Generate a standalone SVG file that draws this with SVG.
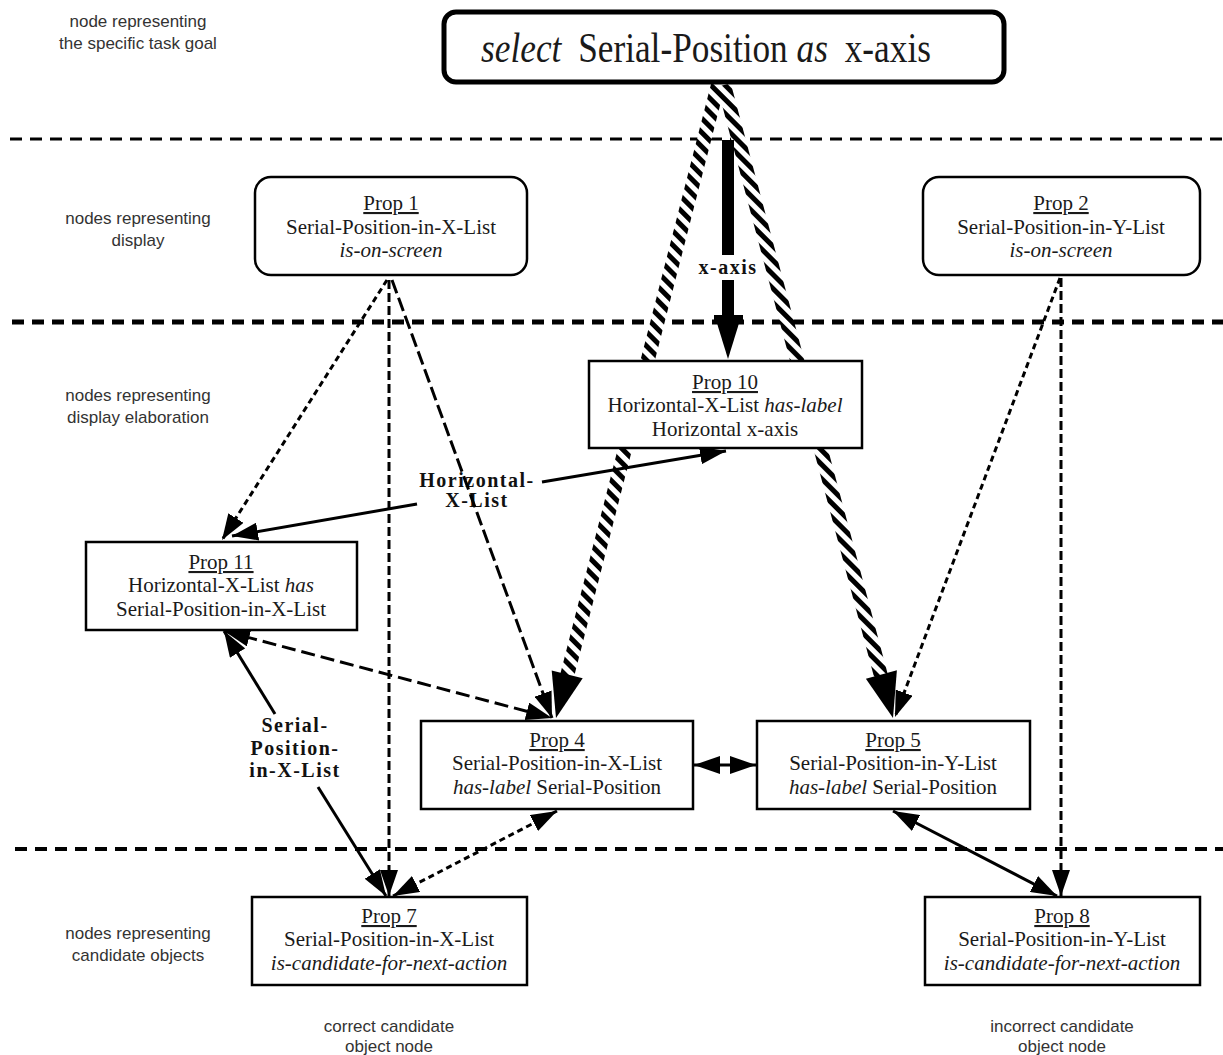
<svg xmlns="http://www.w3.org/2000/svg" width="1223" height="1055" viewBox="0 0 1223 1055">
<style>
.lbl{font-family:"Liberation Sans",Arial,sans-serif;font-size:17px;fill:#333;text-anchor:middle}
.nt{font-family:"Liberation Serif","Times New Roman",serif;font-size:21px;fill:#1a1a1a;text-anchor:middle}
.it{font-style:italic}
.u{text-decoration:underline}
.cl{font-family:"Liberation Serif","Times New Roman",serif;font-size:20px;font-weight:bold;fill:#111;text-anchor:middle;letter-spacing:1.5px}
.box{fill:#fff;stroke:#000;stroke-width:2.5}
.sep{fill:none;stroke:#000;stroke-dasharray:12 8}
.dl{fill:none;stroke:#000;stroke-width:3}
</style>
<defs>
<pattern id="stripes" patternUnits="userSpaceOnUse" width="10" height="10" patternTransform="rotate(-45)">
<rect width="10" height="10" fill="#fff"/>
<rect width="5" height="10" fill="#000"/>
</pattern>
<marker id="ah" markerUnits="userSpaceOnUse" markerWidth="28" markerHeight="18" refX="26" refY="9" orient="auto-start-reverse" viewBox="0 0 28 18">
<path d="M0,0 L26,9 L0,18 z" fill="#000"/>
</marker>
</defs>

<g id="separators">
<line class="sep" x1="10" y1="139" x2="1223" y2="139" stroke-width="3"/>
<line class="sep" x1="12" y1="322" x2="1223" y2="322" stroke-width="5"/>
<line class="sep" x1="15" y1="849" x2="1223" y2="849" stroke-width="4"/>
</g>

<g id="layer-labels">
<text class="lbl" x="138" y="27">node representing</text>
<text class="lbl" x="138" y="49">the specific task goal</text>
<text class="lbl" x="138" y="224">nodes representing</text>
<text class="lbl" x="138" y="246">display</text>
<text class="lbl" x="138" y="401">nodes representing</text>
<text class="lbl" x="138" y="423">display elaboration</text>
<text class="lbl" x="138" y="939">nodes representing</text>
<text class="lbl" x="138" y="961">candidate objects</text>
<text class="lbl" x="389" y="1032">correct candidate</text>
<text class="lbl" x="389" y="1052">object node</text>
<text class="lbl" x="1062" y="1032">incorrect candidate</text>
<text class="lbl" x="1062" y="1052">object node</text>
</g>

<g id="connectors">
<!-- striped activation arrows -->
<line x1="718" y1="85" x2="567" y2="676" stroke="url(#stripes)" stroke-width="14"/>
<polygon points="556,718 582.7,678.3 551.7,670.4" fill="#000"/>
<line x1="724" y1="85" x2="881" y2="676" stroke="url(#stripes)" stroke-width="14"/>
<polygon points="893,718 896.9,670.3 865.9,678.7" fill="#000"/>
<!-- x-axis link -->
<line x1="728" y1="140" x2="728" y2="255" stroke="#000" stroke-width="12"/>
<line x1="728" y1="280" x2="728" y2="316" stroke="#000" stroke-width="12"/>
<rect x="714" y="315" width="29" height="5" fill="#000"/>
<polygon points="716,320 740,320 728,359" fill="#000"/>
<text class="cl" x="728" y="274">x-axis</text>
<!-- Horizontal-X-List link -->
<line class="dl" x1="232" y1="536" x2="417" y2="504" marker-start="url(#ah)" stroke="#222"/>
<line class="dl" x1="542" y1="482" x2="726" y2="451" marker-end="url(#ah)" stroke="#222"/>
<text class="cl" x="477" y="487">Horizontal-</text>
<text class="cl" x="477" y="507">X-List</text>
<!-- from Prop 1 -->
<line class="dl" x1="387" y1="280" x2="222" y2="540" stroke-dasharray="6 4" marker-end="url(#ah)"/>
<line class="dl" x1="389" y1="280" x2="389" y2="896" stroke-dasharray="9 4" marker-end="url(#ah)"/>
<line class="dl" x1="392" y1="280" x2="552" y2="718" stroke-width="2.5" stroke-dasharray="14 5" marker-end="url(#ah)"/>
<!-- from Prop 2 -->
<line class="dl" x1="1060" y1="278" x2="895" y2="717" stroke-dasharray="6 4" marker-end="url(#ah)"/>
<line class="dl" x1="1061" y1="278" x2="1061" y2="896" stroke-dasharray="9 4" marker-end="url(#ah)"/>
<!-- Prop 11 <-> Prop 4 -->
<line class="dl" x1="224" y1="631" x2="552" y2="718" stroke-dasharray="14 6" marker-start="url(#ah)" marker-end="url(#ah)"/>
<!-- Prop 11 <-> Prop 7 -->
<line class="dl" x1="224" y1="631" x2="275" y2="714" marker-start="url(#ah)"/>
<line class="dl" x1="318" y1="787" x2="386" y2="896" marker-end="url(#ah)"/>
<text class="cl" x="295" y="732">Serial-</text>
<text class="cl" x="295" y="755">Position-</text>
<text class="cl" x="295" y="777">in-X-List</text>
<!-- Prop 7 <-> Prop 4 -->
<line class="dl" x1="393" y1="896" x2="557" y2="811" stroke-dasharray="6 4" marker-start="url(#ah)" marker-end="url(#ah)"/>
<!-- Prop 4 <-> Prop 5 -->
<line class="dl" x1="694" y1="765" x2="756" y2="765" marker-start="url(#ah)" marker-end="url(#ah)"/>
<!-- Prop 5 <-> Prop 8 -->
<line class="dl" x1="893" y1="811" x2="1057" y2="896" marker-start="url(#ah)" marker-end="url(#ah)"/>
</g>

<g id="goal">
<rect x="444" y="12" width="560" height="70" rx="12" fill="#fff" stroke="#000" stroke-width="5"/>
<text transform="translate(706,62) scale(0.84,1)" font-family="'Liberation Serif','Times New Roman',serif" font-size="42" fill="#1a1a1a" text-anchor="middle"><tspan font-style="italic">select</tspan><tspan dx="20">Serial-Position </tspan><tspan font-style="italic">as</tspan><tspan dx="20">x-axis</tspan></text>
</g>

<g id="prop1">
<rect class="box" x="255" y="177" width="272" height="98" rx="16"/>
<text class="nt u" x="391" y="210">Prop 1</text>
<text class="nt" x="391" y="234">Serial-Position-in-X-List</text>
<text class="nt it" x="391" y="257">is-on-screen</text>
</g>

<g id="prop2">
<rect class="box" x="923" y="177" width="277" height="98" rx="16"/>
<text class="nt u" x="1061" y="210">Prop 2</text>
<text class="nt" x="1061" y="234">Serial-Position-in-Y-List</text>
<text class="nt it" x="1061" y="257">is-on-screen</text>
</g>

<g id="prop10">
<rect class="box" x="589" y="361" width="273" height="87"/>
<text class="nt u" x="725" y="389">Prop 10</text>
<text class="nt" x="725" y="412">Horizontal-X-List <tspan class="it">has-label</tspan></text>
<text class="nt" x="725" y="436">Horizontal x-axis</text>
</g>

<g id="prop11">
<rect class="box" x="86" y="542" width="271" height="88"/>
<text class="nt u" x="221" y="569">Prop 11</text>
<text class="nt" x="221" y="592">Horizontal-X-List <tspan class="it">has</tspan></text>
<text class="nt" x="221" y="616">Serial-Position-in-X-List</text>
</g>

<g id="prop4">
<rect class="box" x="421" y="721" width="272" height="88"/>
<text class="nt u" x="557" y="747">Prop 4</text>
<text class="nt" x="557" y="770">Serial-Position-in-X-List</text>
<text class="nt" x="557" y="794"><tspan class="it">has-label</tspan>  Serial-Position</text>
</g>

<g id="prop5">
<rect class="box" x="757" y="721" width="273" height="88"/>
<text class="nt u" x="893" y="747">Prop 5</text>
<text class="nt" x="893" y="770">Serial-Position-in-Y-List</text>
<text class="nt" x="893" y="794"><tspan class="it">has-label</tspan>  Serial-Position</text>
</g>

<g id="prop7">
<rect class="box" x="252" y="897" width="275" height="88"/>
<text class="nt u" x="389" y="923">Prop 7</text>
<text class="nt" x="389" y="946">Serial-Position-in-X-List</text>
<text class="nt it" x="389" y="970">is-candidate-for-next-action</text>
</g>

<g id="prop8">
<rect class="box" x="925" y="897" width="275" height="88"/>
<text class="nt u" x="1062" y="923">Prop 8</text>
<text class="nt" x="1062" y="946">Serial-Position-in-Y-List</text>
<text class="nt it" x="1062" y="970">is-candidate-for-next-action</text>
</g>
</svg>
